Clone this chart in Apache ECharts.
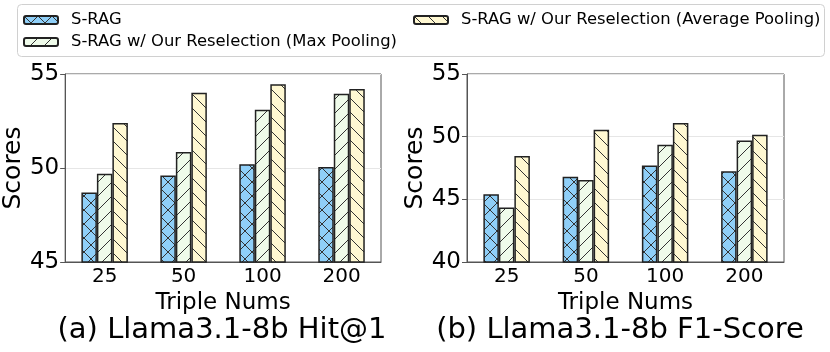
<!DOCTYPE html>
<html>
<head>
<meta charset="utf-8">
<script src="https://cdn.jsdelivr.net/npm/echarts@6/dist/echarts.min.js"></script>
<style>html,body{margin:0;padding:0;background:#fff}#c{width:830px;height:352px}</style>
</head>
<body>
<div id="c"></div>
<script>
const categories = ['25', '50', '100', '200'];
const seriesNames = ['S-RAG', 'S-RAG w/ Our Reselection (Max Pooling)', 'S-RAG w/ Our Reselection (Average Pooling)'];
const hitSRAG = [48.7, 49.6, 50.2, 50.05];
const hitMax  = [49.7, 50.85, 53.1, 53.95];
const hitAvg  = [52.4, 54.0, 54.45, 54.2];
const f1SRAG  = [45.4, 46.8, 47.7, 47.25];
const f1Max   = [44.35, 46.55, 49.35, 49.7];
const f1Avg   = [48.45, 50.55, 51.1, 50.15];
const captions = ['(a) Llama3.1-8b Hit@1', '(b) Llama3.1-8b F1-Score'];
const leftTicks = {min: 45, max: 55, interval: 5};
const rightTicks = {min: 40, max: 55, interval: 5};

const FONT = 'DejaVu Sans';
function hatch(bg, kind) {
  const s = 14;
  const c = document.createElement('canvas');
  c.width = s; c.height = s;
  const g = c.getContext('2d');
  g.fillStyle = bg; g.fillRect(0, 0, s, s);
  g.strokeStyle = '#333'; g.lineWidth = 1;
  function ln(x1, y1, x2, y2) { g.beginPath(); g.moveTo(x1, y1); g.lineTo(x2, y2); g.stroke(); }
  if (kind === '/' || kind === 'x') { ln(-1, s + 1, s + 1, -1); ln(-1, 1, 1, -1); ln(s - 1, s + 1, s + 1, s - 1); }
  if (kind === '\\' || kind === 'x') { ln(-1, -1, s + 1, s + 1); ln(s - 1, -1, s + 1, 1); ln(-1, s - 1, 1, s + 1); }
  return {image: c, repeat: 'repeat'};
}
const styles = [
  {color: hatch('#8fcff8', 'x'), borderColor: '#222', borderWidth: 1.5},
  {color: hatch('#effbea', '/'), borderColor: '#222', borderWidth: 1.5},
  {color: hatch('#fff8d2', '\\'), borderColor: '#222', borderWidth: 1.5}
];

const chart = echarts.init(document.getElementById('c'), null, {renderer: 'canvas'});
const grids = [
  {left: 64, right: 449, top: 74, bottom: 90, show: true, borderColor: '#555', borderWidth: 1},
  {left: 467, right: 46, top: 74, bottom: 90, show: true, borderColor: '#555', borderWidth: 1}
];
function xAxis(i) {
  return {
    type: 'category', gridIndex: i, data: categories,
    name: 'Triple Nums', nameLocation: 'middle', nameGap: 26,
    nameTextStyle: {fontFamily: FONT, fontSize: 23, color: '#000'},
    axisLine: {lineStyle: {color: '#555', width: 1}},
    axisTick: {alignWithLabel: true, length: 5, lineStyle: {color: '#555'}},
    axisLabel: {fontFamily: FONT, fontSize: 20, color: '#000', margin: 5}
  };
}
function yAxis(i, t) {
  return {
    type: 'value', gridIndex: i, min: t.min, max: t.max, interval: t.interval,
    name: 'Scores', nameLocation: 'middle', nameGap: 38,
    nameTextStyle: {fontFamily: FONT, fontSize: 25, color: '#000'},
    axisLine: {show: true, lineStyle: {color: '#555', width: 1}},
    axisTick: {show: true, length: 5, lineStyle: {color: '#555'}},
    axisLabel: {fontFamily: FONT, fontSize: 23, color: '#000', margin: 6},
    splitLine: {show: true, lineStyle: {color: '#e6e6e6', width: 1}}
  };
}
function bars(gi, arr) {
  return arr.map((d, k) => ({
    name: seriesNames[k], type: 'bar', xAxisIndex: gi, yAxisIndex: gi, data: d,
    barWidth: 15.5, barGap: '0%', itemStyle: styles[k], animation: false
  }));
}
const legendBase = {
  orient: 'vertical', itemWidth: 34, itemHeight: 8, itemGap: 6, padding: 0,
  textStyle: {fontFamily: FONT, fontSize: 16.4, color: '#000', padding: [0, 0, 0, 8]}, selectedMode: false
};
chart.setOption({
  animation: false,
  grid: grids,
  xAxis: [xAxis(0), xAxis(1)],
  yAxis: [yAxis(0, leftTicks), yAxis(1, rightTicks)],
  legend: [
    Object.assign({}, legendBase, {left: 23, top: 12, data: [seriesNames[0], seriesNames[1]]}),
    Object.assign({}, legendBase, {left: 413, top: 12, data: [seriesNames[2]]})
  ],
  graphic: [
    {type: 'rect', shape: {x: 17.5, y: 4.5, width: 807, height: 52, r: 4}, style: {fill: 'rgba(255,255,255,0.8)', stroke: '#d0d0d0', lineWidth: 1}, z: -1},
    {type: 'text', x: 222, y: 330, style: {text: captions[0], font: '29px "DejaVu Sans"', fill: '#000', textAlign: 'center', textVerticalAlign: 'middle'}},
    {type: 'text', x: 620, y: 330, style: {text: captions[1], font: '29px "DejaVu Sans"', fill: '#000', textAlign: 'center', textVerticalAlign: 'middle'}}
  ],
  series: [].concat(bars(0, [hitSRAG, hitMax, hitAvg]), bars(1, [f1SRAG, f1Max, f1Avg]))
});
</script>
</body>
</html>
